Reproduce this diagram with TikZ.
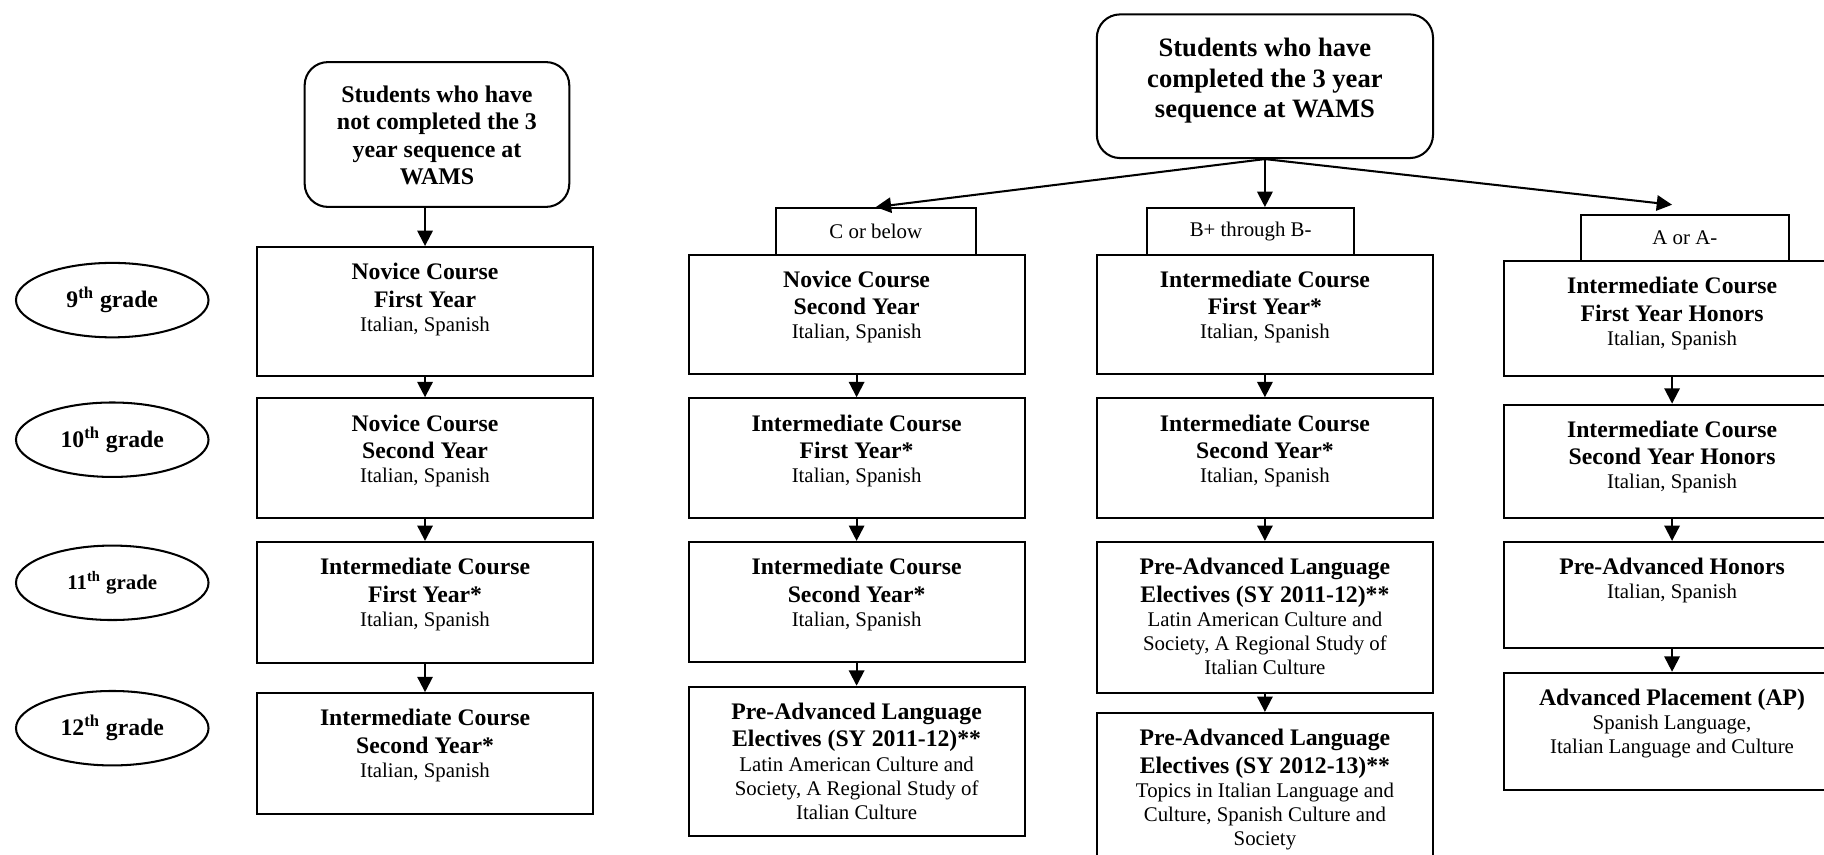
\documentclass[tikz,border=0pt]{standalone}
\usepackage{fontspec}
\setmainfont{Liberation Serif}
\usetikzlibrary{shapes.geometric,arrows.meta}

% top aligned text of a course box: height, bold lines, plain lines
\newcommand{\crs}[3]{\parbox[t][#1][t]{5.78cm}{\centering\vspace*{8pt}%
{\fontsize{11.6}{13.4}\selectfont\bfseries #2\par}%
{\fontsize{10.2}{11.8}\selectfont #3\par}}}
% text of a starting box: height, width, top gap, size, skip, lines
\newcommand{\strt}[6]{\parbox[t][#1][t]{#2}{\centering\vspace*{#3}%
\fontsize{#4}{#5}\selectfont\bfseries #6\par}}

\begin{document}
\begin{tikzpicture}[>={Stealth[inset=0pt,length=7.5pt,width=7.5pt]},
  course/.style={draw,line width=1pt,inner sep=0pt,anchor=north west},
  entry/.style={course,rounded corners=0.4cm},
  scorebox/.style={draw,line width=1pt,inner sep=0pt,anchor=north west,minimum height=0.8cm,font=\fontsize{10.2}{12}\selectfont},
  gradeoval/.style={draw,line width=1pt,ellipse,inner sep=0pt,minimum width=3.31cm,minimum height=1.28cm,font=\fontsize{11.6}{13}\selectfont\bfseries},
  link/.style={->,line width=1pt}]
\useasboundingbox (0,0) rectangle (31.36,-14.7);

% grades
\node[gradeoval] (g9) at (1.93,-5.16) {9\textsuperscript{th} grade};
\node[gradeoval] (g10) at (1.93,-7.56) {10\textsuperscript{th} grade};
\node[gradeoval,font=\fontsize{10.2}{12}\selectfont\bfseries] (g11) at (1.93,-10.02) {11\textsuperscript{th} grade};
\node[gradeoval] (g12) at (1.93,-12.52) {12\textsuperscript{th} grade};

% not completed
\node[entry] (ltop) at (5.22,-1.05) {\strt{2.49cm}{4.55cm}{11.8pt}{11.7}{13.3}{Students who have\\not completed the 3\\year sequence at\\WAMS}};
\node[course] (n1) at (4.40,-4.23) {\crs{2.22cm}{Novice Course\\First Year}{Italian, Spanish}};
\node[course] (n2) at (4.40,-6.83) {\crs{2.06cm}{Novice Course\\Second Year}{Italian, Spanish}};
\node[course] (n3) at (4.40,-9.30) {\crs{2.08cm}{Intermediate Course\\First Year*}{Italian, Spanish}};
\node[course] (n4) at (4.40,-11.90) {\crs{2.07cm}{Intermediate Course\\Second Year*}{Italian, Spanish}};
\draw[link] (n1.north |- ltop.south) -- (n1.north);
\draw[link] (n1.south) -- (n2.north);
\draw[link] (n2.south) -- (n3.north);
\draw[link] (n3.south) -- (n4.north);

% completed
\node[entry] (rtop) at (18.84,-0.23) {\strt{2.47cm}{5.78cm}{11.6pt}{13}{15}{Students who have\\completed the 3 year\\sequence at WAMS}};

% C or below
\node[scorebox,minimum width=3.44cm] (sc) at (13.32,-3.56) {C or below};
\node[course] (c1) at (11.82,-4.36) {\crs{2.06cm}{Novice Course\\Second Year}{Italian, Spanish}};
\node[course] (c2) at (11.82,-6.83) {\crs{2.06cm}{Intermediate Course\\First Year*}{Italian, Spanish}};
\node[course] (c3) at (11.82,-9.30) {\crs{2.06cm}{Intermediate Course\\Second Year*}{Italian, Spanish}};
\node[course] (c4) at (11.82,-11.79) {\crs{2.57cm}{Pre-Advanced Language\\Electives (SY 2011-12)**}{Latin American Culture and\\Society, A Regional Study of\\Italian Culture}};
\draw[link] (c1.south) -- (c2.north);
\draw[link] (c2.south) -- (c3.north);
\draw[link] (c3.south) -- (c4.north);

% B+ through B-
\node[scorebox,minimum width=3.55cm] (sb) at (19.71,-3.56) {B+ through B-};
\node[course] (b1) at (18.84,-4.36) {\crs{2.06cm}{Intermediate Course\\First Year*}{Italian, Spanish}};
\node[course] (b2) at (18.84,-6.83) {\crs{2.06cm}{Intermediate Course\\Second Year*}{Italian, Spanish}};
\node[course] (b3) at (18.84,-9.30) {\crs{2.60cm}{Pre-Advanced Language\\Electives (SY 2011-12)**}{Latin American Culture and\\Society, A Regional Study of\\Italian Culture}};
\node[course] (b4) at (18.84,-12.24) {\crs{2.70cm}{Pre-Advanced Language\\Electives (SY 2012-13)**}{Topics in Italian Language and\\Culture, Spanish Culture and\\Society}};
\draw[link] (b1.south) -- (b2.north);
\draw[link] (b2.south) -- (b3.north);
\draw[link] (b3.south) -- (b4.north);

% A or A-
\node[scorebox,minimum width=3.58cm,minimum height=0.79cm] (sa) at (27.16,-3.68) {A or A-};
\node[course] (a1) at (25.84,-4.47) {\crs{1.98cm}{Intermediate Course\\First Year Honors}{Italian, Spanish}};
\node[course] (a2) at (25.84,-6.94) {\crs{1.95cm}{Intermediate Course\\Second Year Honors}{Italian, Spanish}};
\node[course] (a3) at (25.84,-9.30) {\crs{1.82cm}{Pre-Advanced Honors}{Italian, Spanish}};
\node[course] (a4) at (25.84,-11.55) {\crs{2.01cm}{Advanced Placement (AP)}{Spanish Language,\\Italian Language and Culture}};
\draw[link] (a1.south) -- (a2.north);
\draw[link] (a2.south) -- (a3.north);
\draw[link] (a3.south) -- (a4.north);

% split by grade
\draw[link] (rtop.south) -- (sc.north);
\draw[link] (rtop.south) -- (rtop.south |- sb.north);
\draw[link] (rtop.south) -- ([yshift=1.6mm]sa.north -| a1.north);
\end{tikzpicture}
\end{document}
